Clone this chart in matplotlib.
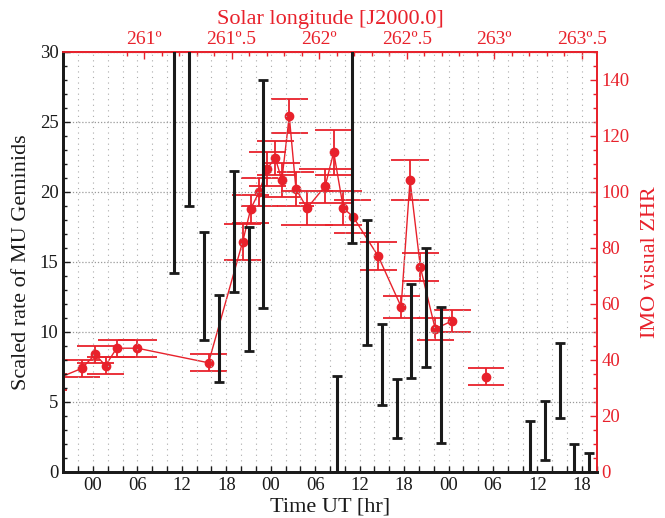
import numpy as np
import matplotlib
matplotlib.use("Agg")
import matplotlib.pyplot as plt
from matplotlib.ticker import MultipleLocator, FixedLocator, FuncFormatter

plt.rcParams['font.family'] = ['Liberation Serif', 'DejaVu Serif']

# -------------------------------
# Data
# -------------------------------

# MU radar (left axis): hours from 00 UT of first day, lower / upper bound
mu_time = [11, 13, 15, 17, 19, 21, 23, 33, 35, 37, 39, 41, 43, 45, 47,
           59, 61, 63, 65, 67]
mu_low = [14.2, 19.0, 9.4, 6.4, 12.8, 8.6, 11.7, -2.0, 16.3, 9.05, 4.76,
          2.38, 6.67, 7.45, 2.03, -2.0, 0.84, 3.86, -2.0, -2.0]
mu_high = [40.0, 40.0, 17.1, 12.6, 21.5, 17.5, 28.0, 6.8, 40.0, 18.0, 10.55,
           6.6, 13.4, 16.0, 11.74, 3.64, 5.05, 9.17, 1.98, 1.36]

# IMO visual ZHR (right axis)
zhr_time = [-6.0, -1.5, 0.3, 1.7, 3.2, 6.0, 15.6, 20.2, 21.3, 22.45, 23.5,
            24.6, 25.5, 26.5, 27.4, 28.9, 31.35, 32.5, 33.8, 35.1, 38.5,
            41.6, 42.8, 44.2, 46.2, 48.5, 53.1]
zhr = [32.0, 36.9, 41.9, 37.9, 44.1, 44.1, 38.9, 82.0, 93.9, 100.0, 108.1,
       112.1, 104.2, 127.0, 101.0, 94.1, 102.0, 114.1, 94.1, 91.1, 77.0,
       58.9, 104.2, 73.0, 51.0, 53.9, 33.9]
zhr_err = [3, 3, 3, 3, 3, 3, 3, 6.5, 5, 5, 6, 6, 6, 6, 6, 6, 6, 8, 6, 6,
           5, 4, 7, 5, 4, 4, 3]
zhr_bin = [2.5, 2.5, 2.5, 2.5, 2.5, 2.6, 2.45, 2.5, 2.5, 2.5, 2.5, 2.5, 2.5,
           2.5, 2.5, 3.5, 3.5, 2.5, 2.5, 2.5, 2.5, 2.5, 2.5, 2.5, 2.5, 2.5,
           2.45]

# solar longitude ticks on top axis
sol_ticks = [261.0, 261.5, 262.0, 262.5, 263.0, 263.5]

red = '#e8212b'
black = '#1a1a1a'

# -------------------------------
# Figure
# -------------------------------

fig = plt.figure(figsize=(6.65, 5.18), dpi=100)
ax = fig.add_axes([0.0952, 0.0894, 0.8021, 0.8108])
ax2 = ax.twinx()

# red ZHR (drawn below the black bars)
zt = np.array(zhr_time)
zv = np.array(zhr)
ze = np.array(zhr_err)
zb = np.array(zhr_bin)
ax2.plot(zt[:-1], zv[:-1], color=red, lw=1.0, zorder=2)
ax2.errorbar(zt, zv, yerr=ze, fmt='o', color=red, ms=6, elinewidth=1.3,
             capsize=0, zorder=3)
ax2.hlines(zv + ze, zt - zb, zt + zb, color=red, lw=1.3, zorder=3)
ax2.hlines(zv - ze, zt - zb, zt + zb, color=red, lw=1.3, zorder=3)

# black MU bars
lo = np.array(mu_low)
hi = np.array(mu_high)
ax.errorbar(mu_time, (lo + hi) / 2, yerr=(hi - lo) / 2, fmt='none',
            ecolor=black, elinewidth=2.2, capsize=3.5, capthick=2.0, zorder=5)

ax.set_zorder(ax2.get_zorder() + 1)
ax.patch.set_visible(False)

# -------------------------------
# Axes setup
# -------------------------------

ax.set_xlim(-4, 68)
ax.set_ylim(0, 30)
ax2.set_ylim(0, 150)

ax.xaxis.set_major_locator(MultipleLocator(6))
ax.xaxis.set_minor_locator(MultipleLocator(2))
ax.xaxis.set_major_formatter(FuncFormatter(lambda v, p: "%02d" % (int(round(v)) % 24)))
ax.yaxis.set_major_locator(MultipleLocator(5))
ax.yaxis.set_minor_locator(MultipleLocator(1))

ax.tick_params(axis='both', which='both', direction='in', colors=black,
               labelsize=13.5, top=False, right=False)
ax.tick_params(axis='x', which='both', length=4, width=1)
ax.tick_params(axis='y', which='major', length=5, width=1)
ax.tick_params(axis='y', which='minor', length=3, width=1)

ax2.yaxis.set_major_locator(MultipleLocator(20))
ax2.yaxis.set_minor_locator(MultipleLocator(5))
ax2.tick_params(axis='y', which='both', direction='in', colors=red,
                labelsize=13.5)
ax2.tick_params(axis='y', which='major', length=5, width=1)
ax2.tick_params(axis='y', which='minor', length=3, width=1)

# grid
ax.grid(which='minor', axis='x', color='#aaaaaa', lw=0.8, ls=(0, (1, 4)))
ax.grid(which='major', axis='x', color='#aaaaaa', lw=0.8, ls=(0, (1, 4)))
ax.grid(which='major', axis='y', color='#999999', lw=0.9, ls=(0, (1, 1.5)))

for a in (ax, ax2):
    a.spines['left'].set_color(black)
    a.spines['bottom'].set_color(black)
    a.spines['left'].set_linewidth(2)
    a.spines['bottom'].set_linewidth(2)
    a.spines['right'].set_color(red)
    a.spines['top'].set_color(red)
    a.spines['right'].set_linewidth(1.3)
    a.spines['top'].set_linewidth(1.3)

ax.set_xlabel("Time UT [hr]", fontsize=16, color=black, labelpad=3)
ax.set_ylabel("Scaled rate of MU Geminids", fontsize=16, color=black, labelpad=6)
ax2.set_ylabel("IMO visual ZHR", fontsize=16, color=red, labelpad=8)

# top axis: solar longitude
t262 = 30.54
h_per_deg = 23.64
sec = ax.secondary_xaxis('top', functions=(lambda t: 262 + (t - t262) / h_per_deg,
                                            lambda L: t262 + (L - 262) * h_per_deg))


def sol_fmt(v, p):
    if abs(v - round(v)) < 1e-6:
        return "%dº" % round(v)
    return "%dº.5" % np.floor(v)


sec.xaxis.set_major_locator(FixedLocator(sol_ticks))
sec.xaxis.set_minor_locator(FixedLocator(np.arange(260.9, 263.75, 0.1)))
sec.xaxis.set_major_formatter(FuncFormatter(sol_fmt))
sec.tick_params(axis='x', which='both', direction='in', colors=red, labelsize=14)
sec.tick_params(axis='x', which='major', length=5, width=1, pad=3)
sec.tick_params(axis='x', which='minor', length=3, width=1)
sec.spines['top'].set_color(red)
sec.set_xlabel("Solar longitude [J2000.0]", fontsize=16, color=red, labelpad=5)

fig.savefig("out.png", dpi=100)
